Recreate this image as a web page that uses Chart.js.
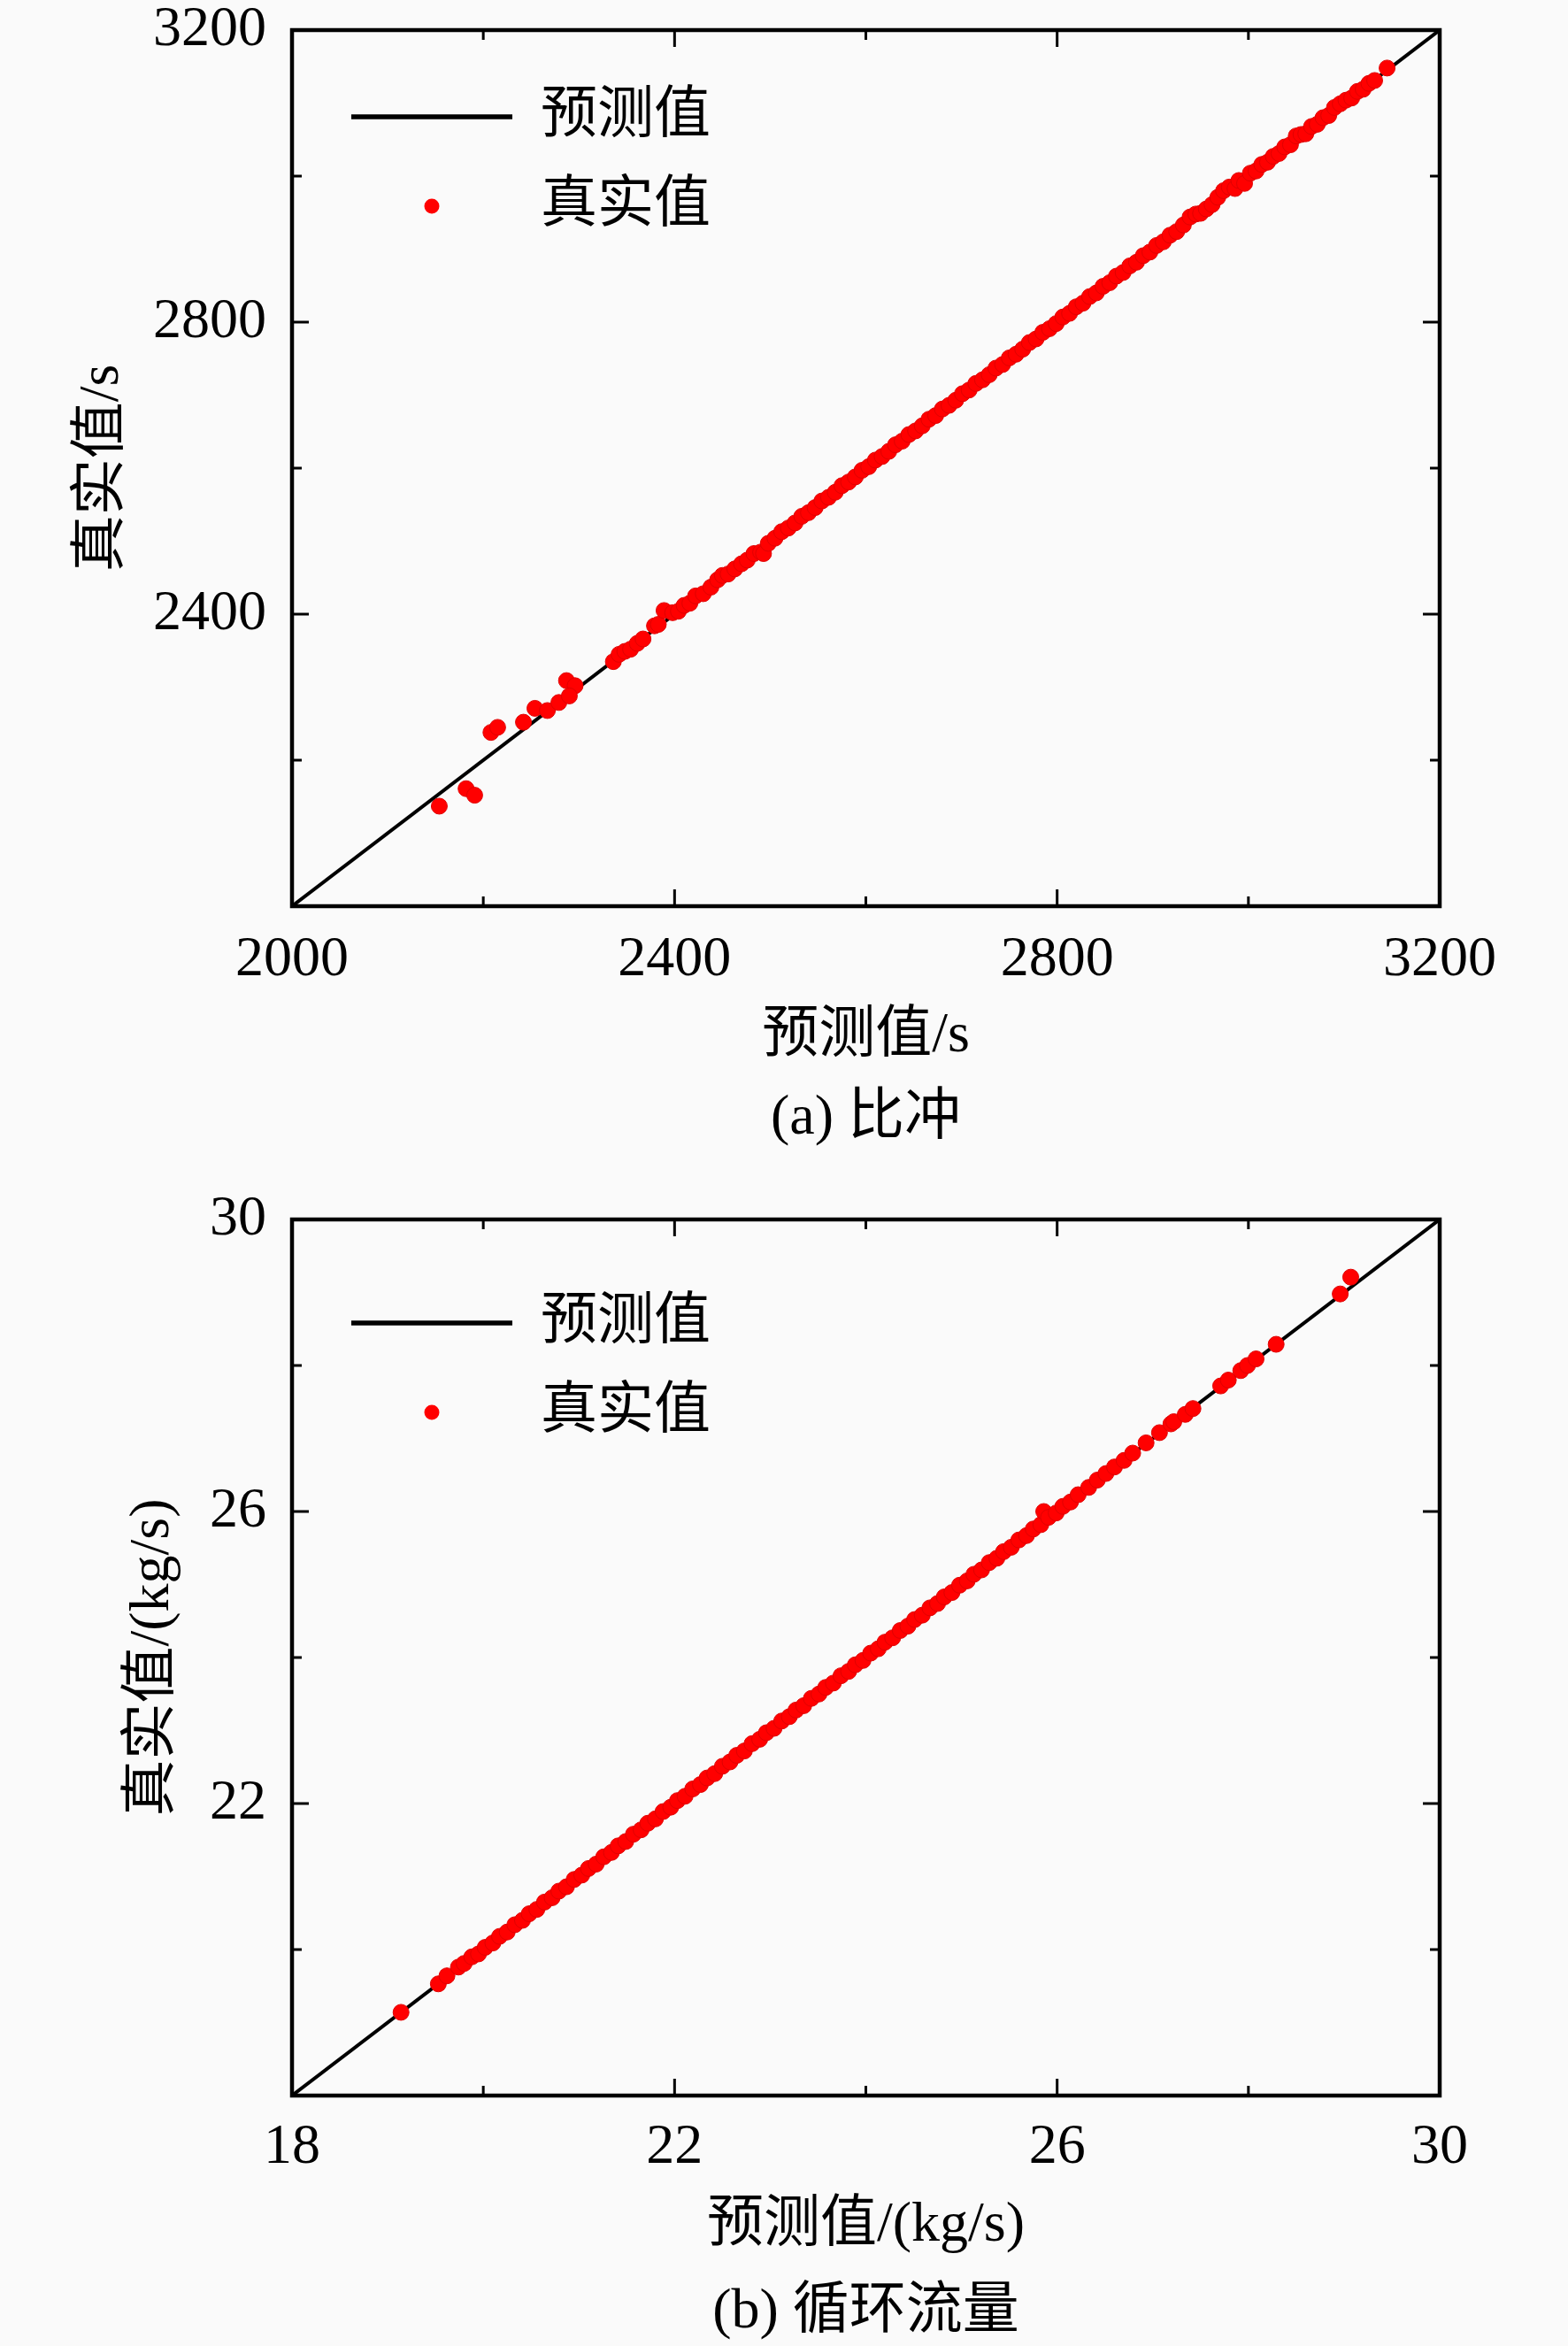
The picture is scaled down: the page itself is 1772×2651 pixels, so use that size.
<!DOCTYPE html>
<html>
<head>
<meta charset="utf-8">
<script src="https://cdn.jsdelivr.net/npm/chart.js@4.4.1/dist/chart.umd.min.js"></script>
<style>
    html, body { margin: 0; padding: 0; background: #fafafa; overflow: hidden; width: 1772px; height: 2651px; position: relative; }
    canvas { display: block; position: absolute; left: 0; }
    #chartA { top: -30px; }
    #chartB { top: 1305px; }
</style>
</head>
<body>
<canvas id="chartA" width="1772" height="1355"></canvas>
<canvas id="chartB" width="1772" height="1360"></canvas>
<script>
// (a) 比冲: predicted (x) and true (y) values, s
const predA = [2154, 2182, 2191, 2208, 2215, 2242, 2254, 2267, 2279, 2287, 2296, 2290, 2336, 2342, 2348, 2354, 2361, 2367, 2379, 2383, 2389, 2398, 2404, 2410, 2416, 2422,
    2430, 2438, 2445, 2450, 2456, 2463, 2470, 2476, 2483, 2490, 2493, 2498, 2505, 2512, 2519, 2526, 2533, 2540, 2547, 2554, 2561, 2568, 2575, 2582, 2589, 2596,
    2603, 2610, 2617, 2624, 2631, 2638, 2645, 2652, 2659, 2666, 2673, 2680, 2687, 2694, 2701, 2708, 2715, 2722, 2729, 2736, 2743, 2750, 2757, 2764, 2771, 2778,
    2785, 2792, 2799, 2806, 2813, 2820, 2827, 2834, 2841, 2848, 2855, 2862, 2869, 2876, 2883, 2890, 2897, 2904, 2911, 2918, 2925, 2932, 2939, 2945, 2950, 2956,
    2962, 2968, 2974, 2980, 2986, 2990, 2996, 3002, 3008, 3014, 3020, 3026, 3032, 3038, 3044, 3050, 3055, 3060, 3066, 3072, 3078, 3084, 3090, 3096, 3102, 3108,
    3114, 3120, 3126, 3132, 3145];
const trueA = [2137, 2161, 2152, 2238, 2245, 2252, 2271, 2268, 2279, 2309, 2302, 2288, 2335, 2345, 2349, 2352, 2360, 2366, 2384, 2386, 2405, 2402, 2404, 2412, 2415, 2425,
    2428, 2437, 2447, 2453, 2455, 2462, 2469, 2474, 2483, 2485, 2483, 2497, 2504, 2513, 2518, 2525, 2534, 2539, 2546, 2555, 2560, 2567, 2576, 2581, 2588, 2597,
    2602, 2611, 2616, 2623, 2632, 2637, 2646, 2651, 2658, 2667, 2672, 2681, 2686, 2693, 2702, 2707, 2716, 2721, 2728, 2737, 2742, 2751, 2756, 2763, 2772, 2777,
    2786, 2791, 2798, 2807, 2812, 2821, 2826, 2835, 2840, 2849, 2854, 2863, 2868, 2877, 2882, 2891, 2896, 2905, 2910, 2919, 2924, 2933, 2944, 2948, 2949, 2955,
    2961, 2971, 2980, 2985, 2983, 2994, 2990, 3004, 3007, 3016, 3019, 3027, 3031, 3040, 3043, 3055, 3057, 3058, 3068, 3071, 3080, 3083, 3094, 3099, 3104, 3107,
    3116, 3119, 3127, 3131, 3148];

// (b) 循环流量: predicted (x) and true (y) values, kg/s
const predB = [19.14, 19.53, 19.62, 19.74, 19.80, 19.88, 19.95,
    20.02, 20.10, 20.17, 20.25, 20.33, 20.41, 20.48, 20.56, 20.64, 20.72, 20.79, 20.87, 20.95,
    21.03, 21.10, 21.18, 21.26, 21.34, 21.41, 21.49, 21.57, 21.65, 21.72, 21.80, 21.88, 21.96,
    22.03, 22.11, 22.19, 22.27, 22.34, 22.42, 22.50, 22.58, 22.65, 22.73, 22.81, 22.89, 22.96,
    23.04, 23.12, 23.20, 23.27, 23.35, 23.43, 23.51, 23.58, 23.66, 23.74, 23.82, 23.89, 23.97,
    24.05, 24.13, 24.20, 24.28, 24.36, 24.44, 24.51, 24.59, 24.67, 24.75, 24.82, 24.90, 24.98,
    25.06, 25.13, 25.21, 25.29, 25.37, 25.44, 25.52, 25.60, 25.68, 25.75, 25.83, 25.86, 25.91, 25.99,
    26.06, 26.14, 26.22, 26.33, 26.42, 26.51, 26.60, 26.70, 26.79, 26.93, 27.07, 27.19, 27.22, 27.34, 27.42,
    27.71, 27.79, 27.92, 27.99, 28.08, 28.29, 28.96, 29.07];
const trueB = [19.14, 19.53, 19.64, 19.76, 19.81, 19.90, 19.94,
    20.03, 20.09, 20.18, 20.24, 20.34, 20.40, 20.49, 20.55, 20.65, 20.71, 20.80, 20.86, 20.96,
    21.02, 21.11, 21.17, 21.27, 21.33, 21.42, 21.48, 21.58, 21.64, 21.73, 21.79, 21.89, 21.95,
    22.04, 22.10, 22.20, 22.26, 22.35, 22.41, 22.51, 22.57, 22.66, 22.72, 22.82, 22.88, 22.97,
    23.03, 23.13, 23.19, 23.28, 23.34, 23.44, 23.50, 23.59, 23.65, 23.75, 23.81, 23.90, 23.96,
    24.06, 24.12, 24.21, 24.27, 24.37, 24.43, 24.52, 24.58, 24.68, 24.74, 24.83, 24.89, 24.99,
    25.05, 25.14, 25.20, 25.30, 25.36, 25.45, 25.51, 25.61, 25.67, 25.76, 25.82, 26.00, 25.92, 25.98,
    26.07, 26.13, 26.23, 26.33, 26.43, 26.52, 26.61, 26.70, 26.80, 26.94, 27.08, 27.20, 27.23, 27.33, 27.41,
    27.72, 27.80, 27.93, 28.00, 28.09, 28.29, 28.98, 29.21];

// axis ranges and labelled ticks
const rangeA = [2000, 3200];
const rangeB = [18, 30];
const xLabelsA = [2000, 2400, 2800, 3200];
const yLabelsA = [2400, 2800, 3200];
const xLabelsB = [18, 22, 26, 30];
const yLabelsB = [22, 26, 30];
const legendNames = ['预测值', '真实值'];

Chart.defaults.font.family = "'Liberation Serif', 'Noto Sans CJK SC', serif";
Chart.defaults.font.size = 64;
Chart.defaults.color = '#000';

//small red dot used as legend marker
const dot = document.createElement('canvas');
dot.width = 20;
dot.height = 20;
const dctx = dot.getContext('2d');
dctx.fillStyle = '#ff0000';
dctx.beginPath();
dctx.arc(10, 10, 8.5, 0, Math.PI * 2);
dctx.fill();

//draws the box frame with inward ticks on all four sides, and moves the legend into the plot
const frameTicks = {
    id: 'frameTicks',
    afterLayout(chart, args, opts) {
        chart.legend.left = chart.chartArea.left + opts.legendX;
        chart.legend.top = chart.chartArea.top + opts.legendY;
    },
    afterDatasetsDraw(chart, args, opts) {
        const {ctx, chartArea: a, scales: {x, y}} = chart;
        const isMajor = (s, v) => Math.abs((v - s.min) / opts.major - Math.round((v - s.min) / opts.major)) < 1e-6;
        ctx.save();
        ctx.strokeStyle = '#000';
        ctx.lineWidth = 3;
        ctx.beginPath();
        x.ticks.forEach(t => {
            const p = x.getPixelForValue(t.value);
            const len = isMajor(x, t.value) ? 19 : 11;
            ctx.moveTo(p, a.bottom); ctx.lineTo(p, a.bottom - len);
            ctx.moveTo(p, a.top); ctx.lineTo(p, a.top + len);
        });
        y.ticks.forEach(t => {
            const p = y.getPixelForValue(t.value);
            const len = isMajor(y, t.value) ? 19 : 11;
            ctx.moveTo(a.left, p); ctx.lineTo(a.left + len, p);
            ctx.moveTo(a.right, p); ctx.lineTo(a.right - len, p);
        });
        ctx.stroke();
        ctx.lineWidth = 4.5;
        ctx.strokeRect(a.left, a.top, a.right - a.left, a.bottom - a.top);
        ctx.restore();
    }
};

function scatterChart(selector, o) {
    const data = {
        datasets: [{
            label: legendNames[0],
            data: [{x: o.range[0], y: o.range[0]}, {x: o.range[1], y: o.range[1]}],
            showLine: true,
            borderColor: '#000',
            borderWidth: 4,
            pointRadius: 0,
            pointStyle: 'line',
            order: 1
        }, {
            label: legendNames[1],
            data: o.pred.map((p, i) => ({x: p, y: o.real[i]})),
            backgroundColor: '#ff0000',
            borderColor: '#e00000',
            borderWidth: 1,
            pointRadius: 9,
            order: 0
        }]
    };
    const config = {
        type: 'scatter',
        data,
        options: {
            responsive: false,
            animation: false,
            layout: {padding: {top: o.top, right: 145, left: 0, bottom: 0}},
            scales: {
                x: {
                    min: o.range[0], max: o.range[1],
                    ticks: {stepSize: o.step, padding: o.xTickPad, autoSkip: false, maxRotation: 0,
                        font: {size: 64, lineHeight: 1},
                        callback: v => o.xLabels.includes(v) ? String(v) : ''},
                    grid: {display: false, drawTicks: false},
                    border: {display: false},
                    title: {display: true, text: [o.xTitle, o.caption],
                        font: {size: 64, lineHeight: o.capGap}, padding: {top: 0, bottom: o.capPad}},
                    afterFit: s => { s.height = o.xHeight; }
                },
                y: {
                    min: o.range[0], max: o.range[1],
                    ticks: {stepSize: o.step, padding: 29, autoSkip: false,
                        font: {size: 64, lineHeight: 1},
                        callback: v => o.yLabels.includes(v) ? String(v) : ''},
                    grid: {display: false, drawTicks: false},
                    border: {display: false},
                    title: {display: true, text: o.yTitle, font: {size: 64}, padding: {top: o.yTitlePad, bottom: 0}},
                    afterFit: s => { s.width = 330; }
                }
            },
            plugins: {
                tooltip: {enabled: false},
                legend: {
                    position: 'chartArea',
                    align: 'start',
                    labels: {
                        usePointStyle: true,
                        pointStyleWidth: 182,
                        padding: 37,
                        color: '#000',
                        font: {size: 64},
                        sort: (a, b) => a.datasetIndex - b.datasetIndex,
                        generateLabels(chart) {
                            const items = Chart.defaults.plugins.legend.labels.generateLabels(chart);
                            items.forEach(it => {
                                if (it.datasetIndex === 1) it.pointStyle = dot;
                                else it.lineWidth = 5.5;
                            });
                            return items;
                        }
                    }
                },
                frameTicks: {major: o.step * 2, legendX: 30, legendY: o.legendY}
            }
        },
        plugins: [frameTicks]
    };
    return new Chart(document.querySelector(selector), config);
}

scatterChart('#chartA', {
    pred: predA, real: trueA, range: rangeA, step: 200,
    xLabels: xLabelsA, yLabels: yLabelsA,
    xTitle: '预测值/s', yTitle: '真实值/s', caption: '(a) 比冲',
    top: 64, xHeight: 301, xTickPad: 29, capGap: 1.453, capPad: 14, yTitlePad: 78, legendY: 29
});
scatterChart('#chartB', {
    pred: predB, real: trueB, range: rangeB, step: 2,
    xLabels: xLabelsB, yLabels: yLabelsB,
    xTitle: '预测值/(kg/s)', yTitle: '真实值/(kg/s)', caption: '(b) 循环流量',
    top: 73, xHeight: 297, xTickPad: 27, capGap: 1.531, capPad: 3, yTitlePad: 135, legendY: 48
});
</script>
</body>
</html>
